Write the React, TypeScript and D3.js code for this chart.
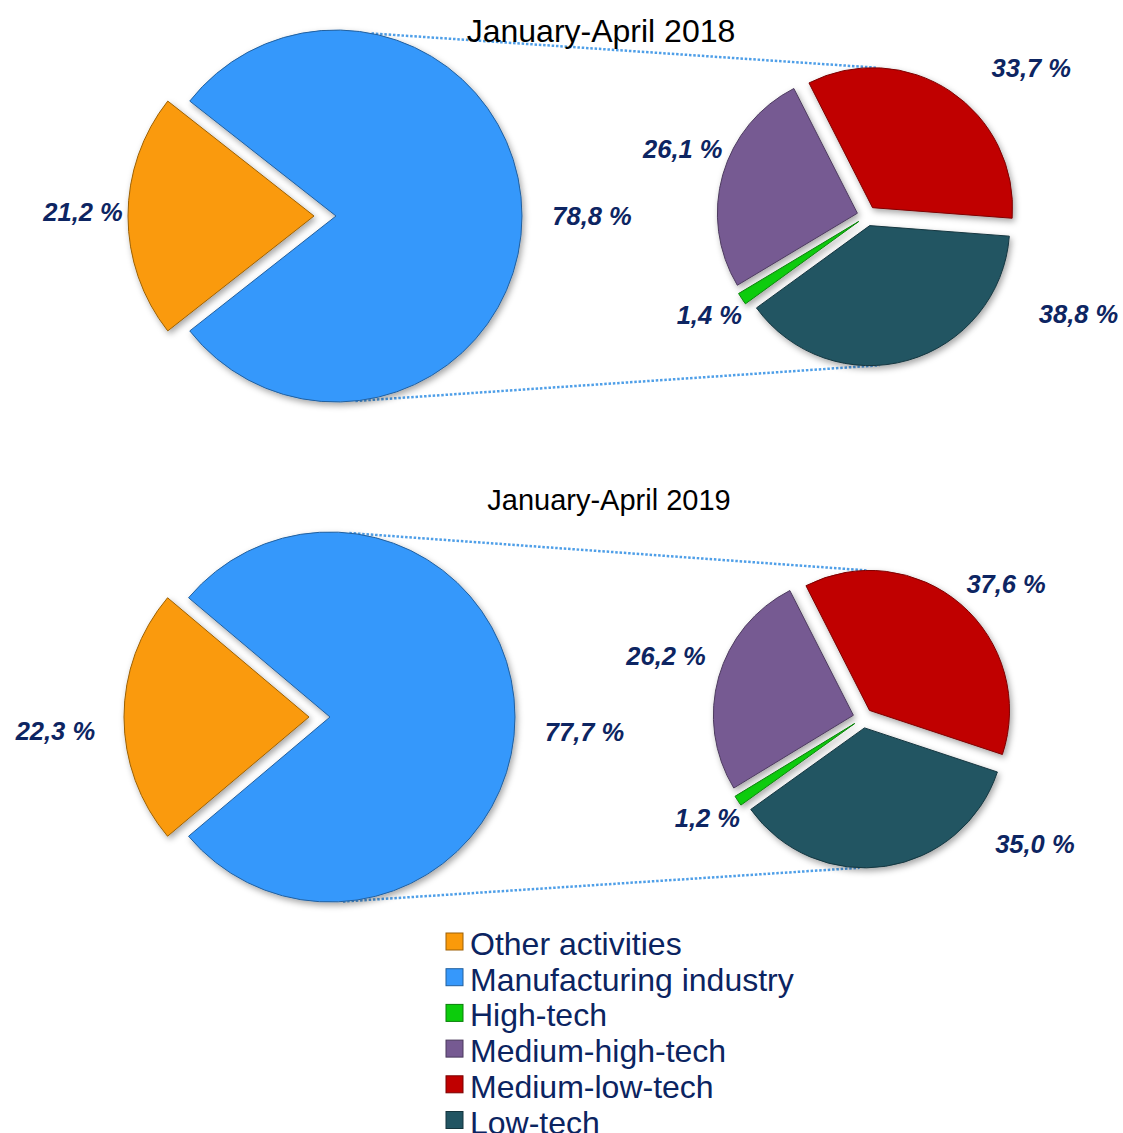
import React, { useEffect, useRef } from 'react';
import * as d3 from 'd3';

// data
const periods = ['January-April 2018', 'January-April 2019'];
const mainCategories = ['Other activities', 'Manufacturing industry'];
const main2018 = [21.2, 78.8];
const main2019 = [22.3, 77.7];
const techCategories = ['Medium-low-tech', 'Low-tech', 'High-tech', 'Medium-high-tech'];
const tech2018 = [33.7, 38.8, 1.4, 26.1];
const tech2019 = [37.6, 35.0, 1.2, 26.2];
const legendLabels = ['Other activities', 'Manufacturing industry', 'High-tech', 'Medium-high-tech', 'Medium-low-tech', 'Low-tech'];

const colors: Record<string, string> = {
  'Other activities': '#fa9a0a',
  'Manufacturing industry': '#3698fb',
  'High-tech': '#0ccc0c',
  'Medium-high-tech': '#765a92',
  'Medium-low-tech': '#c00000',
  'Low-tech': '#215462',
};

const rad = (deg: number) => (deg * Math.PI) / 180;
const polar = (cx: number, cy: number, deg: number, r: number): [number, number] => [
  cx + r * Math.sin(rad(deg)),
  cy - r * Math.cos(rad(deg)),
];
const fmt = (v: number) => v.toFixed(1).replace('.', ',') + ' %';

// layout for each of the two panels
const panels = [
  {
    title: periods[0], titleX: 601, titleY: 42, titleSize: 32,
    main: main2018, tech: tech2018,
    big: { cx: 336, cy: 216, r: 186, explode: 22 },
    small: { cx: 867, cy: 216, r: 140, explode: 10, start: -27 },
    mainLabels: [[271, 253], [90, 256]],
    techLabels: [[48, 221], [114.8, 233], [238, 186], [290, 196]],
    links: { bigTop: 11, bigBottom: 174, smallTop: 2, smallBottom: 176 },
  },
  {
    title: periods[1], titleX: 609, titleY: 510, titleSize: 29,
    main: main2019, tech: tech2019,
    big: { cx: 330, cy: 717, r: 185, explode: 21 },
    small: { cx: 863, cy: 718, r: 140, explode: 10, start: -27 },
    mainLabels: [[267, 275], [93.4, 255]],
    techLabels: [[46.9, 196], [126.2, 213], [237.3, 185], [287.5, 206.5]],
    links: { bigTop: 6, bigBottom: 176, smallTop: -1, smallBottom: 182 },
  },
];

const App = () => {
  const ref = useRef<SVGSVGElement>(null);

  useEffect(() => {
    const svg = d3.select(ref.current);
    svg.selectAll('*').remove();

    const defs = svg.append('defs');
    const shadow = defs.append('filter')
      .attr('id', 'shadow')
      .attr('x', '-20%').attr('y', '-20%')
      .attr('width', '140%').attr('height', '140%');
    shadow.append('feDropShadow')
      .attr('dx', 2).attr('dy', 3)
      .attr('stdDeviation', 3)
      .attr('flood-color', '#000')
      .attr('flood-opacity', 0.35);

    const labelColor = '#0d2562';

    panels.forEach(p => {
      const g = svg.append('g');

      // connector lines (behind the pies)
      const bigTop = polar(p.big.cx, p.big.cy, p.links.bigTop, p.big.r);
      const bigBot = polar(p.big.cx, p.big.cy, p.links.bigBottom, p.big.r);

      const techPie = d3.pie<number>().sort(null).value(d => d)
        .startAngle(rad(p.small.start)).endAngle(rad(p.small.start) + 2 * Math.PI);
      const techArcs = techPie(p.tech);
      const sliceOffset = (a: d3.PieArcDatum<number>, e: number): [number, number] => {
        const mid = (a.startAngle + a.endAngle) / 2;
        return [e * Math.sin(mid), -e * Math.cos(mid)];
      };
      const findArc = (deg: number) =>
        techArcs.find(a => {
          let t = rad(deg);
          while (t < a.startAngle) t += 2 * Math.PI;
          while (t > a.startAngle + 2 * Math.PI) t -= 2 * Math.PI;
          return t >= a.startAngle && t <= a.endAngle;
        }) || techArcs[0];
      const topArc = findArc(p.links.smallTop);
      const botArc = findArc(p.links.smallBottom);
      const to = sliceOffset(topArc, p.small.explode);
      const bo = sliceOffset(botArc, p.small.explode);
      const smallTop = polar(p.small.cx + to[0], p.small.cy + to[1], p.links.smallTop, p.small.r);
      const smallBot = polar(p.small.cx + bo[0], p.small.cy + bo[1], p.links.smallBottom, p.small.r);

      g.selectAll('line.link')
        .data([[bigTop, smallTop], [bigBot, smallBot]])
        .join('line')
          .attr('class', 'link')
          .attr('x1', d => d[0][0]).attr('y1', d => d[0][1])
          .attr('x2', d => d[1][0]).attr('y2', d => d[1][1])
          .attr('stroke', '#4f9fe8')
          .attr('stroke-width', 2.5)
          .attr('stroke-dasharray', '2.5 1.8');

      // title
      g.append('text')
        .attr('x', p.titleX).attr('y', p.titleY)
        .attr('text-anchor', 'middle')
        .attr('font-family', 'Liberation Sans, Arial, sans-serif')
        .attr('font-size', p.titleSize)
        .attr('fill', '#000')
        .text(p.title);

      // main pie: "Other activities" centred on the left side
      const otherSpan = (p.main[0] / d3.sum(p.main)) * 2 * Math.PI;
      const mainStart = rad(270) - otherSpan / 2;
      const mainPie = d3.pie<number>().sort(null).value(d => d)
        .startAngle(mainStart).endAngle(mainStart + 2 * Math.PI);
      const mainArcs = mainPie(p.main);
      const bigArc = d3.arc<d3.PieArcDatum<number>>().innerRadius(0).outerRadius(p.big.r);

      g.append('g')
        .selectAll('path')
        .data(mainArcs)
        .join('path')
          .attr('d', bigArc)
          .attr('transform', (d, i) => {
            const [ox, oy] = sliceOffset(d, i === 0 ? p.big.explode : 0);
            return `translate(${p.big.cx + ox},${p.big.cy + oy})`;
          })
          .attr('fill', (d, i) => colors[mainCategories[i]])
          .attr('stroke', (d, i) => d3.color(colors[mainCategories[i]])!.darker(1.3).formatHex())
          .attr('stroke-width', 1)
          .attr('stroke-linejoin', 'round')
          .attr('filter', 'url(#shadow)');

      // breakdown pie
      const smallArc = d3.arc<d3.PieArcDatum<number>>().innerRadius(0).outerRadius(p.small.r);
      g.append('g')
        .selectAll('path')
        .data(techArcs)
        .join('path')
          .attr('d', smallArc)
          .attr('transform', d => {
            const [ox, oy] = sliceOffset(d, p.small.explode);
            return `translate(${p.small.cx + ox},${p.small.cy + oy})`;
          })
          .attr('fill', (d, i) => colors[techCategories[i]])
          .attr('stroke', (d, i) => d3.color(colors[techCategories[i]])!.darker(1.2).formatHex())
          .attr('stroke-width', 1)
          .attr('stroke-linejoin', 'round')
          .attr('filter', 'url(#shadow)');

      // labels
      const labelStyle = (sel: any) => sel
        .attr('text-anchor', 'middle')
        .attr('dominant-baseline', 'central')
        .attr('font-family', 'Liberation Sans, Arial, sans-serif')
        .attr('font-size', 25.5)
        .attr('font-weight', 'bold')
        .attr('font-style', 'italic')
        .attr('fill', labelColor);

      g.append('g')
        .selectAll('text')
        .data(p.main)
        .join('text')
          .attr('x', (d, i) => polar(p.big.cx, p.big.cy, p.mainLabels[i][0], p.mainLabels[i][1])[0])
          .attr('y', (d, i) => polar(p.big.cx, p.big.cy, p.mainLabels[i][0], p.mainLabels[i][1])[1])
          .call(labelStyle)
          .text(d => fmt(d));

      g.append('g')
        .selectAll('text')
        .data(p.tech)
        .join('text')
          .attr('x', (d, i) => polar(p.small.cx, p.small.cy, p.techLabels[i][0], p.techLabels[i][1])[0])
          .attr('y', (d, i) => polar(p.small.cx, p.small.cy, p.techLabels[i][0], p.techLabels[i][1])[1])
          .call(labelStyle)
          .text(d => fmt(d));
    });

    // legend
    const legend = svg.append('g')
      .attr('transform', 'translate(446, 944)');
    const rowH = 35.7;

    legend.selectAll('rect')
      .data(legendLabels)
      .join('rect')
        .attr('x', 0)
        .attr('y', (d, i) => i * rowH - 11)
        .attr('width', 17)
        .attr('height', 17)
        .attr('fill', d => colors[d])
        .attr('stroke', d => d3.color(colors[d])!.darker(1.3).formatHex())
        .attr('stroke-width', 1);

    legend.selectAll('text')
      .data(legendLabels)
      .join('text')
        .attr('x', 24)
        .attr('y', (d, i) => i * rowH)
        .attr('dominant-baseline', 'central')
        .attr('font-family', 'Liberation Sans, Arial, sans-serif')
        .attr('font-size', 32)
        .attr('fill', '#0b2461')
        .text(d => d);
  }, []);

  return (
    <svg
      ref={ref}
      width={1123}
      height={1133}
      style={{ position: 'absolute', left: 0, top: 0, background: '#fff' }}
    ></svg>
  );
};

export default App;
